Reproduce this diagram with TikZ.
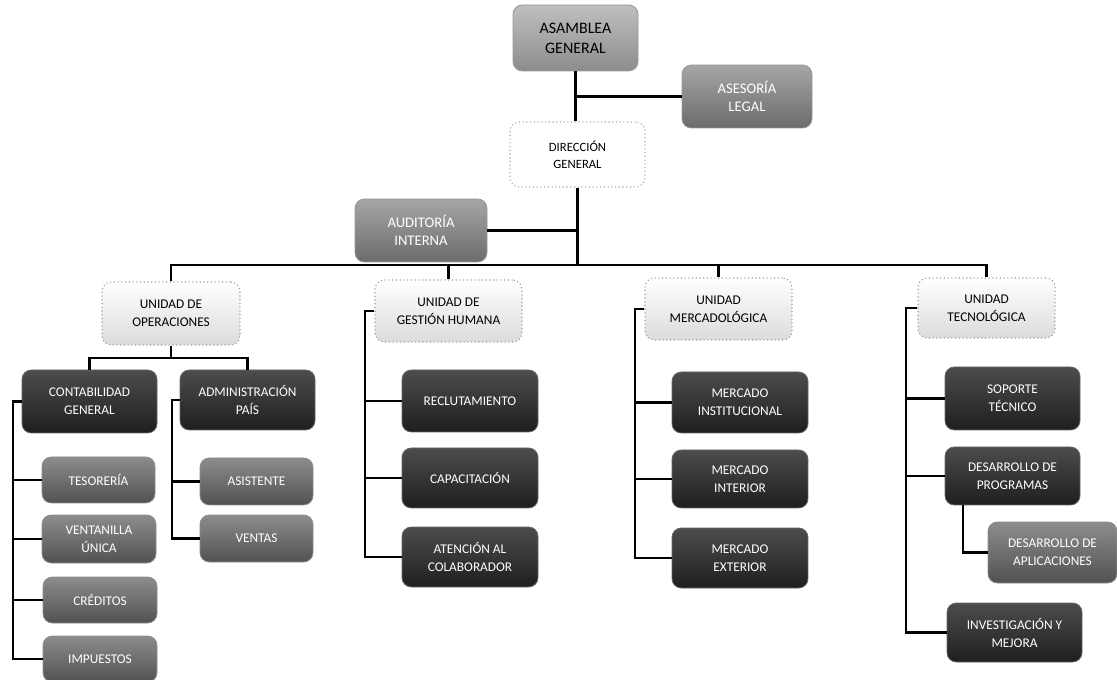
\documentclass[tikz,border=0pt]{standalone}
\usepackage{fontspec}
\setmainfont{Carlito}
\usetikzlibrary{positioning}
\begin{document}
\begin{tikzpicture}[x=0.75pt,y=-0.75pt,
  sz/.style 2 args={minimum width=#1*0.75pt, minimum height=#2*0.75pt},
  base/.style={rounded corners=7pt, inner sep=0pt, align=center, font=\fontsize{10}{13.5}\selectfont},
  darkbox/.style={base, top color=black!70, bottom color=black!88, draw=black!60, line width=0.6pt, text=white},
  midbox/.style={base, top color=black!45, bottom color=black!68, draw=black!45, line width=0.6pt, text=white},
  unitbox/.style={base, top color=white, bottom color=black!14, draw=black!40, dotted, line width=0.8pt, text=black},
  whitebox/.style={base, fill=white, draw=black!35, dotted, line width=0.8pt, text=black, font=\fontsize{9.5}{13}\selectfont},
  asbox/.style={base, top color=black!25, bottom color=black!45, draw=black!40, line width=0.6pt, text=black, font=\fontsize{12}{15}\selectfont},
  greybox/.style={base, top color=black!35, bottom color=black!58, draw=black!40, line width=0.6pt, text=white, font=\fontsize{11}{14}\selectfont},
  conn/.style={draw=black, line width=2pt}
]
\fill[white] (0,0) rectangle (1117,680);
\useasboundingbox (0,0) rectangle (1117,680);

% top level
\node[asbox, sz={125}{66}] (asamblea) at (575.5,38) {ASAMBLEA\\GENERAL};
\node[greybox, sz={130}{63}] (asesoria) at (747,96.5) {ASESORÍA\\LEGAL};
\node[whitebox, sz={135}{65}] (direccion) at (577.5,154.5) {DIRECCIÓN\\GENERAL};
\node[greybox, sz={132}{63}] (auditoria) at (421,230.5) {AUDITORÍA\\INTERNA};

% units
\node[unitbox, sz={138}{63}] (operaciones) at (171,313.5) {UNIDAD DE\\OPERACIONES};
\node[unitbox, sz={147}{62}] (gestion) at (448.5,311) {UNIDAD DE\\GESTIÓN HUMANA};
\node[unitbox, sz={147}{62}] (mercado) at (718.5,309) {UNIDAD\\MERCADOLÓGICA};
\node[unitbox, sz={137}{60}] (tecno) at (986.5,308) {UNIDAD\\TECNOLÓGICA};

% operaciones
\node[darkbox, sz={135}{63}] (contabilidad) at (89.5,401.5) {CONTABILIDAD\\GENERAL};
\node[darkbox, sz={135}{60}] (administracion) at (247.5,400) {ADMINISTRACIÓN\\PAÍS};
\node[midbox, sz={113}{46}] (tesoreria) at (98.5,480) {TESORERÍA};
\node[midbox, sz={114}{48}] (ventanilla) at (99,539) {VENTANILLA\\ÚNICA};
\node[midbox, sz={114}{46}] (creditos) at (100,600) {CRÉDITOS};
\node[midbox, sz={114}{46}] (impuestos) at (100,659) {IMPUESTOS};
\node[midbox, sz={113}{47}] (asistente) at (256.5,481.5) {ASISTENTE};
\node[midbox, sz={113}{47}] (ventas) at (256.5,538.5) {VENTAS};

% gestion humana
\node[darkbox, sz={136}{62}] (reclutamiento) at (470,401) {RECLUTAMIENTO};
\node[darkbox, sz={136}{60}] (capacitacion) at (470,478) {CAPACITACIÓN};
\node[darkbox, sz={136}{60}] (atencion) at (470,557) {ATENCIÓN AL\\COLABORADOR};

% mercadologica
\node[darkbox, sz={136}{61}] (minst) at (740,402.5) {MERCADO\\INSTITUCIONAL};
\node[darkbox, sz={136}{58}] (mint) at (740,479) {MERCADO\\INTERIOR};
\node[darkbox, sz={136}{60}] (mext) at (740,558) {MERCADO\\EXTERIOR};

% tecnologica
\node[darkbox, sz={135}{63}] (soporte) at (1012.5,398.5) {SOPORTE\\TÉCNICO};
\node[darkbox, sz={135}{58}] (programas) at (1012.5,476) {DESARROLLO DE\\PROGRAMAS};
\node[midbox, sz={129}{61}] (aplicaciones) at (1052.5,552.5) {DESARROLLO DE\\APLICACIONES};
\node[darkbox, sz={135}{59}] (investigacion) at (1014.5,632.5) {INVESTIGACIÓN Y\\MEJORA};

% coordinates
\coordinate (bus) at (577.5,265);
\coordinate (opbus) at (171,358);
\coordinate (cspine) at (13,401.5);
\coordinate (aspine) at (172,400);
\coordinate (gspine) at (365,311);
\coordinate (mspine) at (635,309);
\coordinate (tspine) at (906,308);
\coordinate (pdrop) at (963,505);

% connectors
\draw[conn] (asamblea.south) -- (asamblea.south |- direccion.north);
\draw[conn] (asesoria.west) -- (asesoria.west -| asamblea.south);
\draw[conn] (direccion.south) -- (bus);
\draw[conn] (auditoria.east) -- (auditoria.east -| direccion.south);
\draw[conn] (operaciones.north) |- (bus) -| (tecno.north);
\draw[conn] (gestion.north) -- (gestion.north |- bus);
\draw[conn] (mercado.north) -- (mercado.north |- bus);

\draw[conn] (operaciones.south) -- (opbus);
\draw[conn] (contabilidad.north) |- (opbus) -| (administracion.north);

\draw[conn] (contabilidad.west) -- (cspine) |- (impuestos.west);
\draw[conn] (tesoreria.west) -- (tesoreria.west -| cspine);
\draw[conn] (ventanilla.west) -- (ventanilla.west -| cspine);
\draw[conn] (creditos.west) -- (creditos.west -| cspine);

\draw[conn] (administracion.west) -- (aspine) |- (ventas.west);
\draw[conn] (asistente.west) -- (asistente.west -| aspine);

\draw[conn] (gestion.west) -- (gspine) |- (atencion.west);
\draw[conn] (reclutamiento.west) -- (reclutamiento.west -| gspine);
\draw[conn] (capacitacion.west) -- (capacitacion.west -| gspine);

\draw[conn] (mercado.west) -- (mspine) |- (mext.west);
\draw[conn] (minst.west) -- (minst.west -| mspine);
\draw[conn] (mint.west) -- (mint.west -| mspine);

\draw[conn] (tecno.west) -- (tspine) |- (investigacion.west);
\draw[conn] (soporte.west) -- (soporte.west -| tspine);
\draw[conn] (programas.west) -- (programas.west -| tspine);
\draw[conn] (pdrop) |- (aplicaciones.west);
\end{tikzpicture}
\end{document}
